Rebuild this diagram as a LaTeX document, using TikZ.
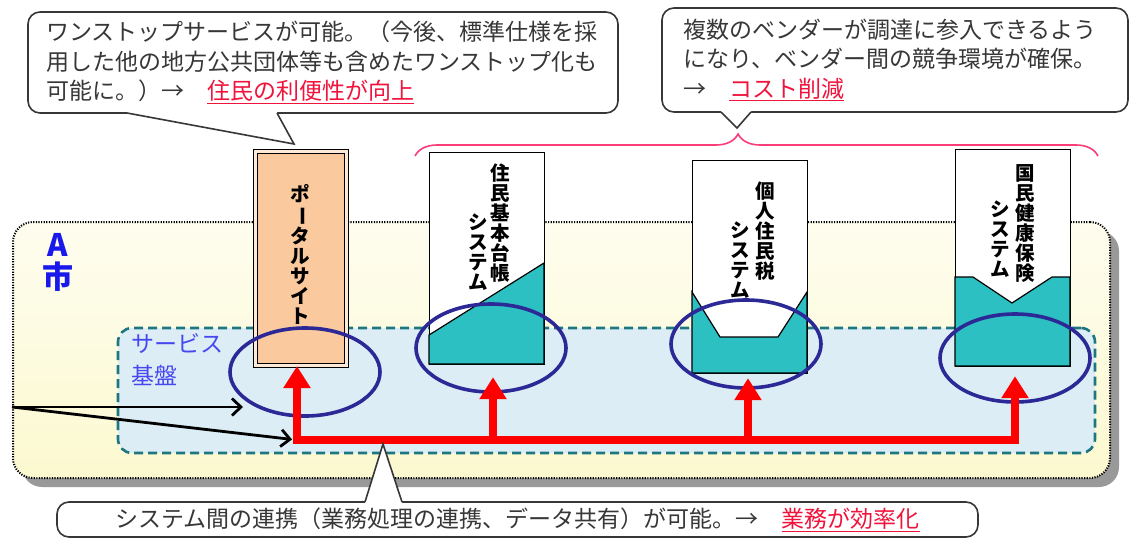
\documentclass[tikz,border=0pt]{standalone}
\usepackage{fontspec}
\setmainfont{Noto Sans CJK JP}
\usetikzlibrary{arrows.meta,positioning,calc,shapes.geometric,shadows,decorations.pathreplacing}

\definecolor{cityfill}{RGB}{252,249,208}
\definecolor{basedash}{RGB}{30,118,128}
\definecolor{basefill}{RGB}{220,237,245}
\definecolor{systeal}{RGB}{44,192,194}
\definecolor{portalfill}{RGB}{250,201,158}
\definecolor{ringblue}{RGB}{44,40,150}
\definecolor{notered}{RGB}{240,20,60}
\definecolor{labelblue}{RGB}{25,25,235}
\definecolor{bracepink}{RGB}{250,60,120}
\definecolor{notegray}{RGB}{55,55,55}

\newcommand\redul[1]{\textcolor{notered}{\underline{#1}}}
\newcommand\tatebar{\rotatebox[origin=c]{-90}{ー}} % long vowel mark, upright

\begin{document}
\begin{tikzpicture}[x=1pt,y=-1pt]
\tikzset{cityarea/.style={draw, line width=2pt, dash pattern=on 1.2pt off 1.4pt, rounded corners=20pt, top color=cityfill!35!white, bottom color=cityfill, minimum width=1097, minimum height=256, inner sep=0pt, drop shadow={shadow xshift=9pt, shadow yshift=-9pt, fill=black, opacity=0.4}}} % A city area
\tikzset{basearea/.style={draw=basedash, line width=2.6pt, dash pattern=on 9pt off 5pt, rounded corners=14pt, fill=basefill, minimum width=977, minimum height=125, inner sep=0pt}} % service base
\tikzset{sysbox/.style={draw, fill=white, line width=1.2pt, inner sep=0pt, minimum width=115, anchor=north west}}
\tikzset{sysfill/.style={fill=systeal, draw=black, line width=1.2pt}}
\tikzset{portalbox/.style={draw, line width=1.2pt, double=portalfill!40!white, double distance=2.5pt, fill=portalfill, inner sep=0pt, minimum width=91, minimum height=214}}
\tikzset{tatecol/.style={font=\bfseries\fontsize{19.5}{20}\selectfont, align=center, inner sep=0pt, anchor=north}} % vertical text
\tikzset{ring/.style={ellipse, draw=ringblue, line width=3.6pt, minimum width=150, minimum height=88, inner sep=0pt}}
\tikzset{bus/.style={draw=red, line width=8pt, -{Triangle[width=26pt,length=22pt]}}}
\tikzset{feedline/.style={draw=black, line width=2.8pt, -{Straight Barb[length=9pt,width=17pt]}}}
\tikzset{note/.style={draw=notegray, line width=1.6pt, rounded corners=12pt, fill=white, text=notegray, font=\fontsize{23}{29.5}\selectfont, align=left}} % speech boxes
\tikzset{tail/.style={draw=notegray, line width=1.6pt, line join=miter}}

\fill[white] (0,0) rectangle (1132,538);
\useasboundingbox (0,0) rectangle (1132,538);

% city and service base
\node[cityarea] (city) at (561.5,350) {};
\node[basearea] (base) at (606.5,390.5) {};
\node[font=\bfseries\fontsize{31}{32}\selectfont, text=labelblue, align=center, inner sep=0pt] (cityname) at (58,262) {A\\市};
\node[font=\fontsize{23}{32}\selectfont, text=labelblue!80!white, align=left, inner sep=0pt, anchor=north west] (basename) at (131,333) {サービス\\基盤};

% portal and systems
\node[portalbox] (portal) at (301,258.5) {};
\node[tatecol] (portaltext) at (300,184) {ポ\\\tatebar\\タ\\ル\\サ\\イ\\ト};

\node[sysbox, minimum height=212] (juki) at (429,152) {};
\filldraw[sysfill] (429,335) -- (544,263) -- (544,364) -- (429,364) -- cycle;
\node[tatecol] (jukiname) at (500,164) {住\\民\\基\\本\\台\\帳};
\node[tatecol] (jukisys) at (478,214) {シ\\ス\\テ\\ム};

\node[sysbox, minimum height=213] (kojin) at (692,160) {};
\filldraw[sysfill] (692,292) -- (720,337) -- (778,337) -- (807,292) -- (807,373) -- (692,373) -- cycle;
\node[tatecol] (kojinname) at (765,182) {個\\人\\住\\民\\税};
\node[tatecol] (kojinsys) at (740,222) {シ\\ス\\テ\\ム};

\node[sysbox, minimum height=217] (kokuho) at (955,149) {};
\filldraw[sysfill] (955,277) -- (973,277) -- (1012,303) -- (1052,277) -- (1070,277) -- (1070,366) -- (955,366) -- cycle;
\node[tatecol] (kokuhoname) at (1025,164) {国\\民\\健\\康\\保\\険};
\node[tatecol] (kokuhosys) at (1000,201) {シ\\ス\\テ\\ム};

% rings
\node[ring] (ring0) at (305,372) {};
\node[ring] (ring1) at (491,348) {};
\node[ring] (ring2) at (746,344) {};
\node[ring] (ring3) at (1015,358) {};

% red links
\coordinate (bus0) at (297,440);
\coordinate (bus1) at (493,440);
\coordinate (bus2) at (748,440);
\coordinate (bus3) at (1015,440);
\draw[bus] (bus3) -- (bus0) -- (bus0 |- portal.south);
\draw[bus] (bus1) -- ($(bus1 |- juki.south)+(0,12)$);
\draw[bus] (bus2) -- ($(bus2 |- kojin.south)+(0,4)$);
\draw[bus] ([yshift=-4pt]bus3) -- ($(bus3 |- kokuho.south)+(0,9)$);

% inputs
\coordinate (feed) at (12,407);
\coordinate (ring0in) at (243,407);
\draw[feedline] (feed) -- (ring0in);
\draw[feedline, shorten >=5pt] (feed) -- (bus0);

% brace over systems
\draw[bracepink, line width=1.6pt, decorate, decoration={brace, amplitude=22pt, aspect=0.473}] (415,156) -- (1098,156);

% notes
\node[note, minimum width=590, minimum height=101, text width=554, inner xsep=18pt] (noteportal) at (323,62.5) {ワンストップサービスが可能。（今後、標準仕様を採\\用した他の地方公共団体等も含めたワンストップ化も\\可能に。）→　\redul{住民の利便性が向上}};
\fill[white] (127,110) -- (277,110) -- (277,113) -- (294,144) -- (127,113) -- cycle;
\draw[tail] (127,113) -- (294,144) -- (277,113);

\node[note, minimum width=466, minimum height=104, text width=424, inner xsep=21pt] (notevendor) at (895,60) {複数のベンダーが調達に参入できるよう\\になり、ベンダー間の競争環境が確保。\\→　\redul{コスト削減}};
\fill[white] (721,109) -- (751,109) -- (751,112) -- (737,128) -- (721,112) -- cycle;
\draw[tail] (721,112) -- (737,128) -- (751,112);

\node[note, minimum width=921, minimum height=35, align=center] (notelink) at (517.5,519.5) {システム間の連携（業務処理の連携、データ共有）が可能。→　\redul{業務が効率化}};
\fill[white] (365,505) -- (365,502) -- (383,444) -- (402,502) -- (402,505) -- cycle;
\draw[tail] (365,502) -- (383,444) -- (402,502);
\end{tikzpicture}
\end{document}
